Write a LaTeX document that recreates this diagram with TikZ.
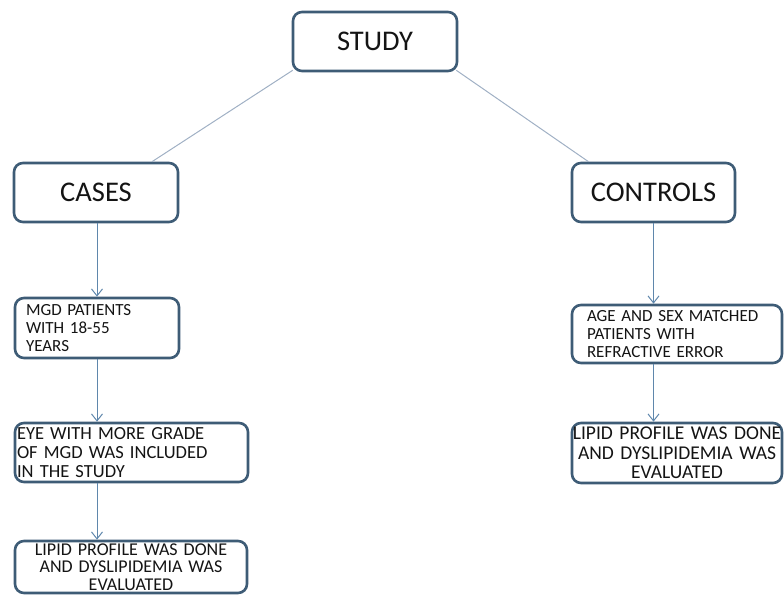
\documentclass[tikz,border=0pt]{standalone}
\usepackage{fontspec}
\setmainfont{Carlito}[WordSpace=0.7]
\usetikzlibrary{arrows.meta}
\definecolor{boxc}{RGB}{62,92,118}
\definecolor{arrc}{RGB}{95,135,172}
\definecolor{linkc}{RGB}{160,176,196}
\definecolor{txtc}{RGB}{20,20,20}
\tikzset{
  box/.style={draw=boxc, line width=2.6pt, rounded corners=9pt, fill=white, text=txtc, inner ysep=0pt},
  big/.style={font=\fontsize{28.5}{32}\selectfont},
  smallA/.style={font=\fontsize{17}{18}\selectfont},
  smallB/.style={font=\fontsize{18.5}{19}\selectfont},
  smallD/.style={font=\fontsize{18}{17.5}\selectfont},
  smallC/.style={font=\fontsize{19.5}{19.5}\selectfont},
  link/.style={draw=linkc, line width=1pt},
  arr/.style={draw=arrc, line width=1pt, -{Straight Barb[length=7pt,width=11pt,line width=1pt]}}
}
\begin{document}
\begin{tikzpicture}[x=1pt,y=1pt]
\useasboundingbox (0,0) rectangle (784,-596);
\node[box, big, minimum width=164, minimum height=59] (study) at (375,-41.5) {STUDY};
\node[box, big, minimum width=164, minimum height=59] (cases) at (96,-192.5) {CASES};
\node[box, big, minimum width=163, minimum height=59] (controls) at (653.5,-192.5) {CONTROLS};
\node[box, smallA, minimum height=60, text width=142, inner xsep=11, align=left] (mgd) at (97,-328) {MGD PATIENTS\\WITH 18-55\\YEARS};
\node[box, smallB, minimum height=59, text width=229, inner xsep=2, align=left] (eye) at (131.5,-452.5) {EYE WITH MORE GRADE\\OF MGD WAS INCLUDED\\IN THE STUDY};
\node[box, smallD, minimum height=52, text width=224, inner xsep=4, align=center] (lipidl) at (131,-567) {LIPID PROFILE WAS DONE\\AND DYSLIPIDEMIA WAS\\EVALUATED};
\node[box, smallA, minimum height=58, text width=180, inner xsep=15, align=left] (age) at (677,-334) {AGE AND SEX MATCHED\\PATIENTS WITH\\REFRACTIVE ERROR};
\node[box, smallC, minimum height=60, text width=210, inner xsep=0, align=center] (lipidr) at (677,-453) {LIPID PROFILE WAS DONE\\AND DYSLIPIDEMIA WAS\\EVALUATED};
\draw[link] ([xshift=1pt,yshift=2pt]study.south west) -- ([xshift=56pt]cases.north);
\draw[link] ([xshift=-2pt,yshift=2pt]study.south east) -- ([xshift=-65pt]controls.north);
\draw[arr] ([xshift=1pt]cases.south) -- ([xshift=1pt]cases.south |- mgd.north);
\draw[arr] (mgd.south) -- (mgd.south |- eye.north);
\draw[arr] (mgd.south |- eye.south) -- (mgd.south |- lipidl.north);
\draw[arr] (controls.south) -- (controls.south |- age.north);
\draw[arr] (controls.south |- age.south) -- (controls.south |- lipidr.north);
\end{tikzpicture}
\end{document}
